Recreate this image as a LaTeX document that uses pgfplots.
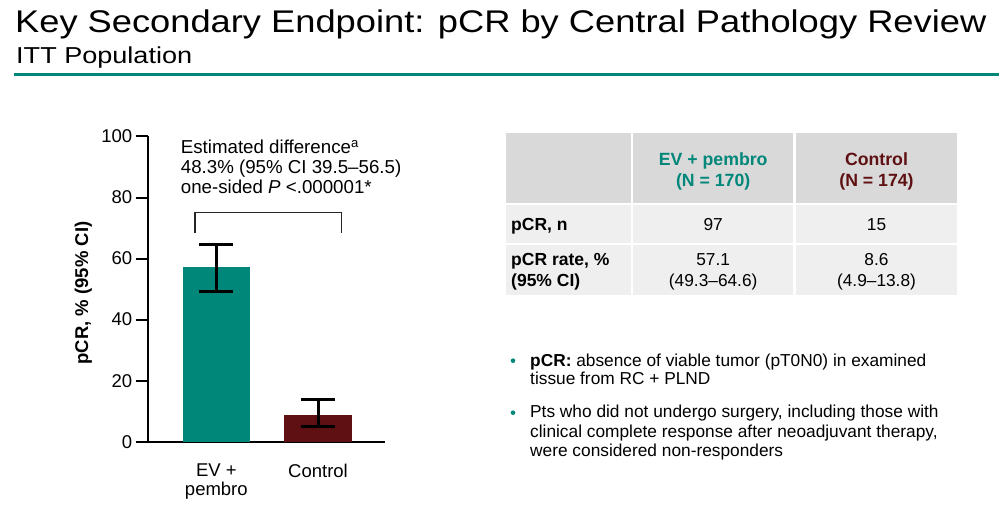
\documentclass[border=0pt]{standalone}
\usepackage{pgfplots}
\pgfplotsset{compat=1.18}
\usepackage{fontspec}
\setmainfont{Liberation Sans}
\usepackage{graphicx}
\definecolor{evteal}{RGB}{0,135,122}
\definecolor{ctrl}{RGB}{94,16,18}
\definecolor{hdr}{RGB}{217,217,217}
\definecolor{cell}{RGB}{239,239,239}
\newcommand\fs[1]{\fontsize{#1}{#1}\selectfont}
\begin{document}
\begin{tikzpicture}
\path[use as bounding box] (0,0) rectangle (999pt,506pt);
% title
\node[anchor=base west, inner sep=0] at (15pt,473.3pt) {\resizebox{971pt}{22.7pt}{Key Secondary Endpoint: pCR by Central Pathology Review}};
\node[anchor=base west, inner sep=0] at (16pt,442.7pt) {\resizebox{176pt}{16.7pt}{ITT Population}};
\fill[evteal] (14pt,430pt) rectangle (999pt,433pt);
% chart
\begin{axis}[
 at={(147.7pt,64.3pt)}, anchor=south west, scale only axis,
 width=237.3pt, height=305.2pt,
 xmin=-0.675, xmax=1.659, ymin=0, ymax=100,
 axis x line=bottom, axis y line=left,
 axis line style={-, line width=2pt, black},
 ytick={0,20,40,60,80,100},
 xtick={0,1}, xticklabels={{EV +\\pembro},{Control}},
 xticklabel style={align=center, font=\fontsize{18.5}{18.8}\selectfont, yshift=-6.5pt},
 tick align=outside, major tick length=12pt,
 y tick style={line width=2pt, black},
 x tick style={draw=none},
 yticklabel style={font=\fs{18.5}},
 /pgf/number format/assume math mode=true,
 ybar, bar width=0.663, bar shift=0pt,
 clip=false,
]
\addplot[fill=evteal, draw=none, error bars/.cd, y dir=both, y explicit,
  error bar style={line width=3pt,black},
  error mark options={rotate=90, mark size=17pt, line width=3pt, black}]
  coordinates {(0,57.1) += (0,7.5) -= (0,7.8)};
\addplot[fill=ctrl, draw=none, error bars/.cd, y dir=both, y explicit,
  error bar style={line width=3pt,black},
  error mark options={rotate=90, mark size=17pt, line width=3pt, black}]
  coordinates {(1,8.6) += (0,5.2) -= (0,3.7)};
\end{axis}
\node[rotate=90, font=\bfseries\fs{18.5}] at (83.3pt,213pt) {pCR, \% (95\% CI)};
% annotation
\node[anchor=base west, inner sep=0, font=\fs{18.7}] at (180.7pt,352.7pt) {Estimated difference\textsuperscript{a}};
\node[anchor=base west, inner sep=0, font=\fs{18.7}] at (180.7pt,332.7pt) {48.3\% (95\% CI 39.5--56.5)};
\node[anchor=base west, inner sep=0, font=\fs{18.7}] at (180.7pt,312pt) {one-sided \textit{P} <.000001*};
\draw[line width=1.5pt, black!85] (195pt,273.3pt) -- (195pt,293.3pt) -- (341.7pt,293.3pt) -- (341.7pt,273.3pt);
% table
\fill[hdr] (506pt,303.3pt) rectangle (630.7pt,373.3pt);
\fill[hdr] (633pt,303.3pt) rectangle (793.3pt,373.3pt);
\fill[hdr] (796pt,303.3pt) rectangle (957pt,373.3pt);
\fill[cell] (506pt,263.3pt) rectangle (630.7pt,301pt);
\fill[cell] (633pt,263.3pt) rectangle (793.3pt,301pt);
\fill[cell] (796pt,263.3pt) rectangle (957pt,301pt);
\fill[cell] (506pt,211.3pt) rectangle (630.7pt,260.7pt);
\fill[cell] (633pt,211.3pt) rectangle (793.3pt,260.7pt);
\fill[cell] (796pt,211.3pt) rectangle (957pt,260.7pt);
\begin{scope}[every node/.style={inner sep=0, font=\fs{17.3}}]
\node[anchor=base, text=evteal, font=\bfseries\fs{17.7}] at (713.2pt,340.3pt) {EV + pembro};
\node[anchor=base, text=evteal, font=\bfseries\fs{17.7}] at (713.2pt,319.3pt) {(N = 170)};
\node[anchor=base, text=ctrl, font=\bfseries\fs{17.7}] at (876.5pt,340.3pt) {Control};
\node[anchor=base, text=ctrl, font=\bfseries\fs{17.7}] at (876.5pt,319.3pt) {(N = 174)};
\node[anchor=base west, font=\bfseries\fs{17.5}] at (511pt,275pt) {pCR, n};
\node[anchor=base west, font=\bfseries\fs{17.5}] at (511pt,240pt) {pCR rate, \%};
\node[anchor=base west, font=\bfseries\fs{17.5}] at (511pt,219.3pt) {(95\% CI)};
\node[anchor=base] at (713.2pt,275pt) {97};
\node[anchor=base] at (876.5pt,275pt) {15};
\node[anchor=base] at (713.2pt,240pt) {57.1};
\node[anchor=base] at (713.2pt,219.3pt) {(49.3--64.6)};
\node[anchor=base] at (876.5pt,240pt) {8.6};
\node[anchor=base] at (876.5pt,219.3pt) {(4.9--13.8)};
% bullets
\fill[evteal] (513pt,145.3pt) circle (2.3pt);
\fill[evteal] (513pt,93.3pt) circle (2.3pt);
\node[anchor=base west] at (530pt,139.3pt) {\textbf{pCR:} absence of viable tumor (pT0N0) in examined};
\node[anchor=base west] at (530pt,121pt) {tissue from RC + PLND};
\node[anchor=base west] at (530pt,88.3pt) {Pts who did not undergo surgery, including those with};
\node[anchor=base west] at (530pt,68.7pt) {clinical complete response after neoadjuvant therapy,};
\node[anchor=base west] at (530pt,49.3pt) {were considered non-responders};
\end{scope}
\end{tikzpicture}
\end{document}
